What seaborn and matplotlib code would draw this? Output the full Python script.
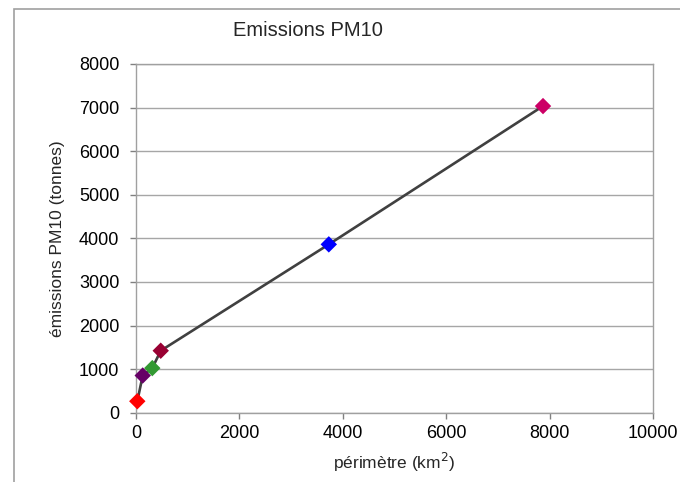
import matplotlib
matplotlib.use("Agg")
import matplotlib.pyplot as plt
import seaborn as sns
import pandas as pd
from matplotlib.patches import Rectangle

# Data
perimetre = [25, 130, 315, 478, 3727, 7868]
emissions = [263, 853, 1023, 1422, 3862, 7035]
groups = ["a", "b", "c", "d", "e", "f"]
colors = ["#FF0000", "#660066", "#339933", "#990033", "#0000FF", "#CC0066"]
x_ticks = [0, 2000, 4000, 6000, 8000, 10000]
y_ticks = [0, 1000, 2000, 3000, 4000, 5000, 6000, 7000, 8000]

df = pd.DataFrame({"x": perimetre, "y": emissions, "g": groups})

sns.set_theme(style="white")
plt.rcParams["font.family"] = ["Liberation Sans", "DejaVu Sans"]

fig = plt.figure(figsize=(6.8, 4.82), dpi=100)
ax = fig.add_axes([136/680, 1 - 412.7/482, (653.3-136)/680, (412.7-64)/482])

sns.lineplot(data=df, x="x", y="y", sort=False, color="#404040", linewidth=1.9,
             ax=ax, zorder=2)
sns.scatterplot(data=df, x="x", y="y", hue="g", palette=colors, marker="D",
                s=70, edgecolor="none", legend=False, ax=ax, zorder=3,
                clip_on=False)

ax.set_xlim(0, 10000)
ax.set_ylim(0, 8000)
ax.set_xticks(x_ticks)
ax.set_yticks(y_ticks)
ax.tick_params(axis="both", labelsize=13, colors="#808080", labelcolor="black",
               length=4, width=1, direction="out", bottom=True, left=True)
ax.tick_params(axis="y", pad=8)
ax.tick_params(axis="x", pad=5)
ax.yaxis.grid(True, color="#A6A6A6", linewidth=1)
ax.xaxis.grid(False)
for sp in ax.spines.values():
    sp.set_color("#A0A0A0")
    sp.set_linewidth(1)
ax.set_axisbelow(True)

ax.set_xlabel("périmètre (km$^{2}$)", fontsize=12.5, labelpad=6)
ax.set_ylabel("émissions PM10 (tonnes)", fontsize=12.5, labelpad=10)

fig.text(308/680, 1 - 30/482, "Emissions PM10", fontsize=14.5, ha="center", va="center")

fig.patches.append(Rectangle((14/680, -0.02), 1.0, 1.02 - 9/482, fill=False,
                             edgecolor="#A0A0A0", linewidth=1.2,
                             transform=fig.transFigure, figure=fig))

fig.savefig("out.png", dpi=100)
